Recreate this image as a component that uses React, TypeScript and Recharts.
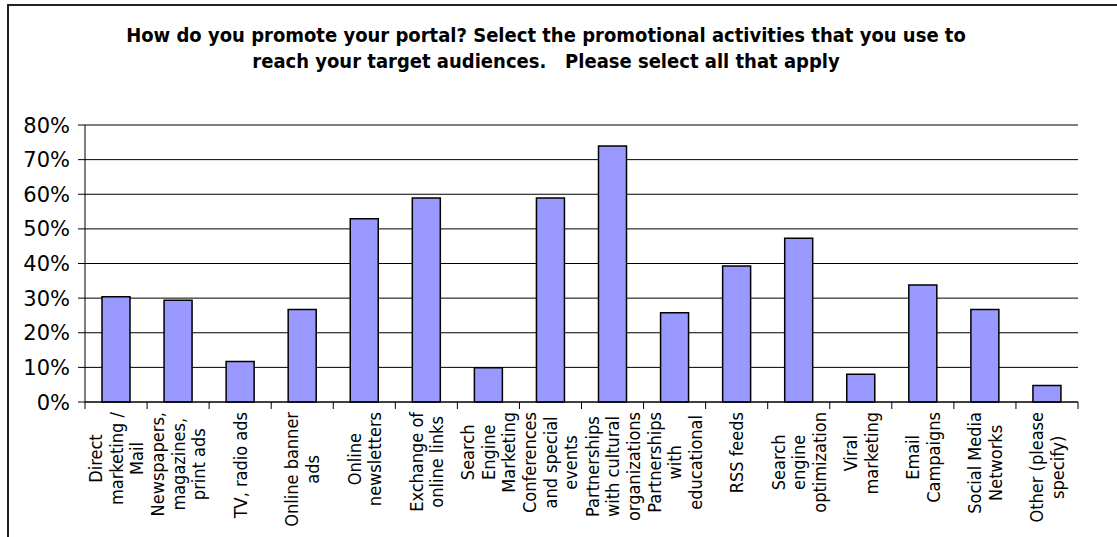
import React from 'react';
import { BarChart, Bar, XAxis, YAxis, CartesianGrid } from 'recharts';

const categories = [
  'Direct marketing / Mail',
  'Newspapers, magazines, print ads',
  'TV, radio ads',
  'Online banner ads',
  'Online newsletters',
  'Exchange of online links',
  'Search Engine Marketing',
  'Conferences and special events',
  'Partnerships with cultural organizations',
  'Partnerships with educational',
  'RSS feeds',
  'Search engine optimization',
  'Viral marketing',
  'Email Campaigns',
  'Social Media Networks',
  'Other (please specify)',
];

const labelLines = [
  ['Direct', 'marketing /', 'Mail'],
  ['Newspapers,', 'magazines,', 'print ads'],
  ['TV, radio ads'],
  ['Online banner', 'ads'],
  ['Online', 'newsletters'],
  ['Exchange of', 'online links'],
  ['Search', 'Engine', 'Marketing'],
  ['Conferences', 'and special', 'events'],
  ['Partnerships', 'with cultural', 'organizations'],
  ['Partnerships', 'with', 'educational'],
  ['RSS feeds'],
  ['Search', 'engine', 'optimization'],
  ['Viral', 'marketing'],
  ['Email', 'Campaigns'],
  ['Social Media', 'Networks'],
  ['Other (please', 'specify)'],
];

const values = [30.4, 29.4, 11.7, 26.7, 52.9, 58.9, 9.9, 58.9, 73.9, 25.8, 39.3, 47.3, 8.0, 33.8, 26.7, 4.8];

const yTicks = [0, 10, 20, 30, 40, 50, 60, 70, 80];

const titleLines = [
  'How do you promote your portal? Select the promotional activities that you use to',
  'reach your target audiences.   Please select all that apply',
];

const data = categories.map((name, i) => ({ name, value: values[i] }));

const W = 1117;
const H = 537;
const PLOT_LEFT = 85;
const PLOT_RIGHT = 1078;
const PLOT_TOP = 125;
const PLOT_BOTTOM = 402;
const Y_AXIS_W = 60;
const BAND = (PLOT_RIGHT - PLOT_LEFT) / categories.length;

const FONT_FAMILY = "'DejaVu Sans Condensed', 'DejaVu Sans', sans-serif";
const LABEL_SIZE = 18;
const LABEL_FONT = `${LABEL_SIZE}px 'DejaVu Sans Condensed', 'DejaVu Sans', sans-serif`;
const LINE_H = 20.5;

let ctx: CanvasRenderingContext2D | null = null;
function measure(t: string): number {
  if (!ctx) {
    const c = document.createElement('canvas');
    ctx = c.getContext('2d');
  }
  if (!ctx) return t.length * 9;
  ctx.font = LABEL_FONT;
  return ctx.measureText(t).width;
}

const CategoryTick = (props: any) => {
  const { x, y, index } = props;
  const lines = labelLines[index] || [];
  const L = Math.max(...lines.map(measure));
  const n = lines.length;
  const isLast = index === categories.length - 1;
  return (
    <g>
      <line x1={x - BAND / 2} y1={y} x2={x - BAND / 2} y2={y + 7} stroke="#000" strokeWidth={1} />
      {isLast && <line x1={x + BAND / 2} y1={y} x2={x + BAND / 2} y2={y + 7} stroke="#000" strokeWidth={1} />}
      <g transform={`translate(${x},${y + 10}) rotate(-90)`}>
        {lines.map((ln, i) => (
          <text
            key={i}
            x={-L / 2}
            y={(i - (n - 1) / 2) * LINE_H + 6.5}
            textAnchor="middle"
            fontFamily={FONT_FAMILY}
            fontSize={LABEL_SIZE}
            fill="#000"
          >
            {ln}
          </text>
        ))}
      </g>
    </g>
  );
};

const ValueTick = (props: any) => {
  const { x, y, payload } = props;
  return (
    <text
      x={x}
      y={y}
      dy={7.5}
      textAnchor="end"
      fontFamily="'DejaVu Sans', sans-serif"
      fontSize={21}
      fill="#000"
    >
      {`${payload.value}%`}
    </text>
  );
};

export default function App() {
  return (
    <div style={{ position: 'absolute', left: 0, top: 0, width: W, height: H, overflow: 'hidden', background: '#fff' }}>
      <div
        style={{
          position: 'absolute',
          left: 7,
          top: 4,
          width: 1300,
          height: 800,
          borderLeft: '2px solid #222',
          borderTop: '2px solid #222',
        }}
      />
      <svg width={W} height={100} style={{ position: 'absolute', left: 0, top: 0 }}>
        {titleLines.map((t, i) => (
          <text
            key={i}
            x={546}
            y={42 + i * 26}
            textAnchor="middle"
            fontFamily={FONT_FAMILY}
            fontWeight="bold"
            fontSize={20}
            fill="#000"
            style={{ whiteSpace: 'pre' }}
          >
            {t}
          </text>
        ))}
      </svg>
      <div style={{ position: 'absolute', left: 0, top: 0 }}>
        <BarChart
          width={W}
          height={H}
          data={data}
          margin={{ top: PLOT_TOP, right: W - PLOT_RIGHT, bottom: 0, left: PLOT_LEFT - Y_AXIS_W }}
          barCategoryGap={0}
        >
          <CartesianGrid vertical={false} stroke="#000" strokeWidth={1} />
          <XAxis
            dataKey="name"
            interval={0}
            height={H - PLOT_BOTTOM}
            tickLine={false}
            tickSize={0}
            tickMargin={0}
            axisLine={{ stroke: '#000', strokeWidth: 1 }}
            tick={<CategoryTick />}
          />
          <YAxis
            width={Y_AXIS_W}
            domain={[0, 80]}
            ticks={yTicks}
            interval={0}
            tickSize={7}
            tickMargin={8}
            axisLine={{ stroke: '#000', strokeWidth: 1 }}
            tickLine={{ stroke: '#000', strokeWidth: 1 }}
            tick={<ValueTick />}
          />
          <Bar dataKey="value" fill="#9999FF" stroke="#000" strokeWidth={1.5} barSize={28} isAnimationActive={false} />
        </BarChart>
      </div>
    </div>
  );
}
